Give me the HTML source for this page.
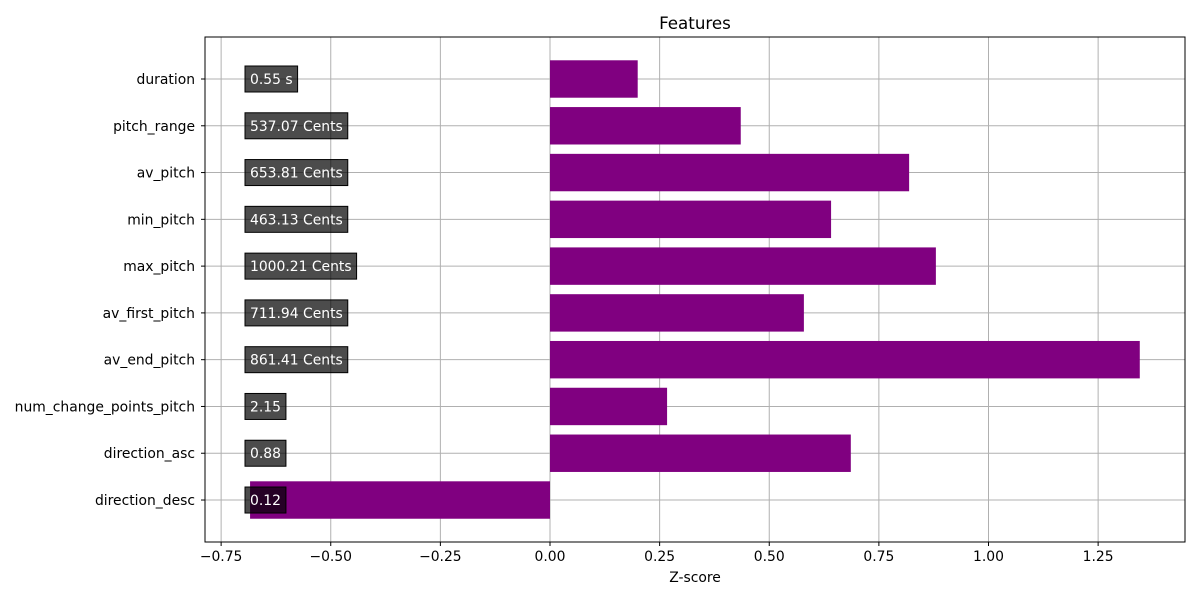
<!DOCTYPE html>
<html><head><meta charset="utf-8"><style>
body{margin:0;background:#fff;}
svg{font-family:"DejaVu Sans","Liberation Sans",sans-serif;}
</style></head><body>
<svg id="chart" width="1200" height="600">
<rect width="1200" height="600" fill="#fff"/>
<text x="695" y="29" font-size="16.7" text-anchor="middle">Features</text>
<g id="grid"></g><g id="bars"></g><g id="labels"></g><g id="axes"></g>
</svg>
<script>
const categories=["duration","pitch_range","av_pitch","min_pitch","max_pitch","av_first_pitch","av_end_pitch","num_change_points_pitch","direction_asc","direction_desc"];
const zscores=[0.2,0.435,0.819,0.641,0.880,0.579,1.345,0.267,0.686,-0.684];
const valueLabels=["0.55 s","537.07 Cents","653.81 Cents","463.13 Cents","1000.21 Cents","711.94 Cents","861.41 Cents","2.15","0.88","0.12"];
const xTicks=[-0.75,-0.5,-0.25,0,0.25,0.5,0.75,1.0,1.25];
const xTickLabels=["−0.75","−0.50","−0.25","0.00","0.25","0.50","0.75","1.00","1.25"];
const NS="http://www.w3.org/2000/svg";
const L=205,R=1185,T=37,B=542;
const x0=550,scale=438.5;
const X=v=>x0+v*scale;
const step=46.78;
const Y=i=>79+i*step;
const FS=13.9;
function mk(tag,attrs,parent,txt){const e=document.createElementNS(NS,tag);for(const k in attrs)e.setAttribute(k,attrs[k]);if(txt!==undefined)e.textContent=txt;document.getElementById(parent).appendChild(e);return e;}
xTicks.forEach((t,i)=>{
 const g=mk('line',{x1:X(t),x2:X(t),y1:T,y2:B,stroke:'#b0b0b0','stroke-width':1},'grid');
 
 
 const tk=mk('line',{x1:X(t),x2:X(t),y1:B,y2:B+4,stroke:'#000'},'axes');
 
 
 const tl=mk('text',{x:X(t),y:B+19,'font-size':FS,'text-anchor':'middle'},'axes',xTickLabels[i]);
 
 
});
categories.forEach((c,i)=>{
 const y=Y(i);
 const g=mk('line',{x1:L,x2:R,y1:y,y2:y,stroke:'#b0b0b0','stroke-width':1},'grid');
 
 
 const v=zscores[i];const h=step*0.8;
 const b=mk('rect',{x:Math.min(X(0),X(v)),y:y-h/2,width:Math.abs(X(v)-X(0)),height:h,fill:'#800080'},'bars');
 
 
 const tk=mk('line',{x1:L-4,x2:L,y1:y,y2:y,stroke:'#000'},'axes');
 
 
 const tl=mk('text',{x:L-10,y:y+5,'font-size':FS,'text-anchor':'end'},'axes',c);
 
 
 const txt=mk('text',{x:250,y:y+5,'font-size':FS,fill:'#fff'},'labels',valueLabels[i]);
 const w=txt.getComputedTextLength();
 const box=mk('rect',{x:245,y:y-13,width:w+10,height:26,fill:'rgba(0,0,0,0.7)',stroke:'#000','stroke-width':1},'labels');
 
 
 document.getElementById('labels').appendChild(txt);
 
 
});
const f=mk('rect',{x:L,y:T,width:R-L,height:B-T,fill:'none',stroke:'#000','stroke-width':1},'axes');


const xt=mk('text',{x:695,y:582,'font-size':FS,'text-anchor':'middle'},'axes','Z-score');


</script>
</body></html>
